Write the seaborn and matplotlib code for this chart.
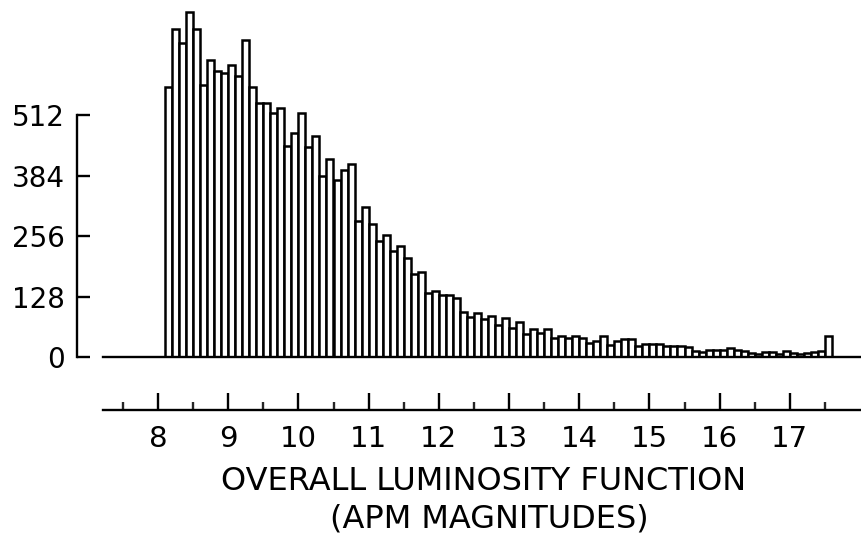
import numpy as np
import pandas as pd
import matplotlib
matplotlib.use("Agg")
import matplotlib.pyplot as plt
import seaborn as sns

# ---- data ----
mag_start = 8.1
bin_width = 0.1
counts = [
    572, 693, 665, 729, 693, 575, 628, 606, 600, 618,
    594, 670, 572, 538, 538, 517, 526, 446, 475, 516,
    445, 468, 384, 420, 375, 396, 409, 288, 318, 281,
    246, 258, 225, 235, 210, 176, 181, 135, 141, 131,
    131, 126, 96, 86, 94,
    80, 88, 69, 84, 62, 75, 50, 59, 52, 59,
    41, 45, 40, 45, 41, 30, 35, 44, 27, 34,
    38, 38, 24, 28, 29, 29,
    23, 23, 23, 21, 14, 11, 16, 16, 15, 20,
    15, 13, 10, 7, 11, 11, 6, 14, 9, 6,
    9, 11, 13, 45,
]
ytick_values = [0, 128, 256, 384, 512]
xtick_major = [8, 9, 10, 11, 12, 13, 14, 15, 16, 17]
xtick_minor = [7.5, 8.5, 9.5, 10.5, 11.5, 12.5, 13.5, 14.5, 15.5, 16.5, 17.5]
title_line1 = "OVERALL LUMINOSITY FUNCTION"
title_line2 = "(APM MAGNITUDES)"

n = len(counts)
edges = [float(e) for e in mag_start + bin_width * np.arange(n + 1)]
centers = [(a + b) / 2 for a, b in zip(edges[:-1], edges[1:])]
df = pd.DataFrame({"mag": centers, "count": counts})

sns.set_theme(style="white")
plt.rcParams["font.family"] = ["DejaVu Sans"]

W, H = 862, 536
fig = plt.figure(figsize=(W / 100, H / 100), dpi=100)

# pixel geometry
px_per_mag = 70.2
x8_px = 158.0
x_left_px, x_right_px = 77.0, 862.0
xlim = (8 + (x_left_px - x8_px) / px_per_mag, 8 + (x_right_px - x8_px) / px_per_mag)
base_start = 8 + (103 - x8_px) / px_per_mag

y0_px_from_top = 357.3
px_per_unit = (357.3 - 115.0) / 512
top_px = 4.0
ymax = (y0_px_from_top - top_px) / px_per_unit

ax = fig.add_axes([x_left_px / W, (H - y0_px_from_top) / H,
                   (x_right_px - x_left_px) / W, (y0_px_from_top - top_px) / H])
sns.histplot(data=df, x="mag", weights="count", bins=edges,
             color="white", edgecolor="black", linewidth=1.8, alpha=1.0, ax=ax)
ax.set_xlim(*xlim)
ax.set_ylim(0, ymax)
ax.set_xlabel("")
ax.set_ylabel("")
ax.set_facecolor("none")
for s in ["top", "right"]:
    ax.spines[s].set_visible(False)
ax.spines["left"].set_bounds(0, 512)
ax.spines["bottom"].set_bounds(base_start, xlim[1])
for s in ["left", "bottom"]:
    ax.spines[s].set_linewidth(1.7)
    ax.spines[s].set_color("black")
ax.set_yticks(ytick_values)
ax.set_yticklabels([str(v) for v in ytick_values])
ax.tick_params(axis="y", direction="in", length=9.5, width=1.7, pad=9,
               labelsize=20, colors="black", left=True)
ax.set_xticks([])

# lower magnitude scale
line_px = 410.0
ax2 = fig.add_axes([x_left_px / W, (H - line_px) / H, (x_right_px - x_left_px) / W, 0.01])
ax2.set_xlim(*xlim)
ax2.set_facecolor("none")
for s in ["top", "right", "left"]:
    ax2.spines[s].set_visible(False)
ax2.spines["bottom"].set_bounds(base_start, xlim[1])
ax2.spines["bottom"].set_linewidth(1.7)
ax2.spines["bottom"].set_color("black")
ax2.set_yticks([])
ax2.set_xticks(xtick_major)
ax2.set_xticklabels([str(v) for v in xtick_major])
ax2.set_xticks(xtick_minor, minor=True)
ax2.tick_params(axis="x", which="major", direction="in", length=12.5, width=1.7,
                pad=11, labelsize=21, colors="black", bottom=True)
ax2.tick_params(axis="x", which="minor", direction="in", length=6, width=1.7,
                bottom=True)

fig.text(484 / W, (H - 481) / H, title_line1, ha="center", va="center",
         fontsize=23, color="black")
fig.text(489 / W, (H - 519) / H, title_line2, ha="center", va="center",
         fontsize=23, color="black")

fig.savefig("out.png", dpi=100, facecolor="white")
